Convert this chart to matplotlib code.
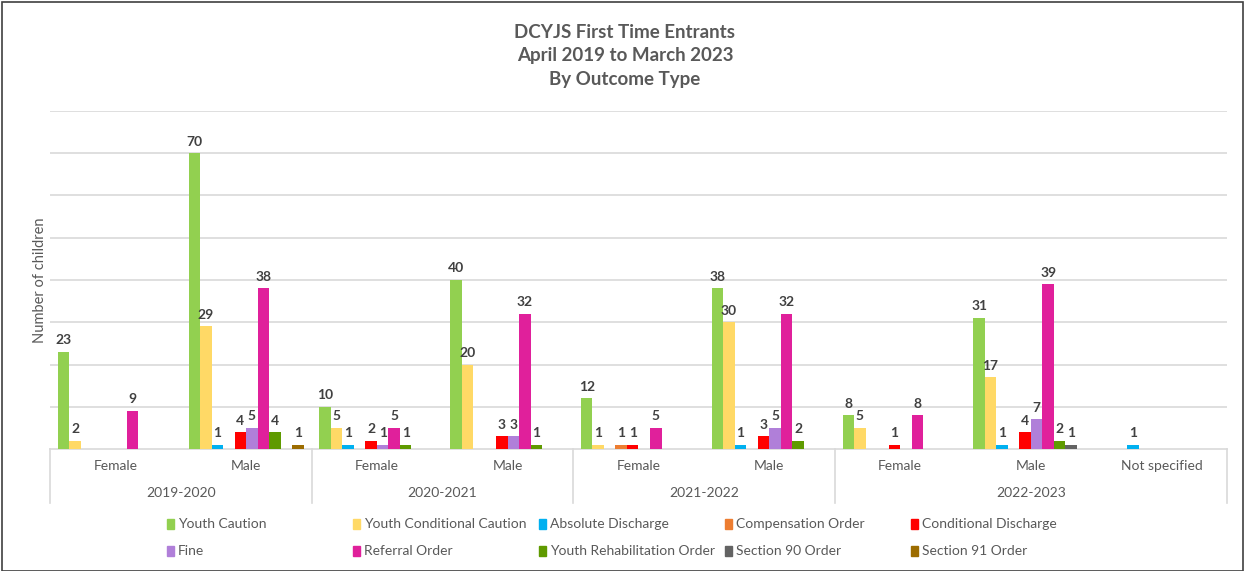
import matplotlib
matplotlib.use("Agg")
import matplotlib.pyplot as plt
from matplotlib.patches import Rectangle
from matplotlib.lines import Line2D
import matplotlib.transforms as mtransforms
import numpy as np

plt.rcParams['font.family'] = ['Lato', 'DejaVu Sans']

years = ["2019-2020", "2020-2021", "2021-2022", "2022-2023"]
year_spans = [2, 2, 2, 3]
sexes = ["Female", "Male", "Female", "Male", "Female", "Male", "Female", "Male", "Not specified"]

series_names = ["Youth Caution", "Youth Conditional Caution", "Absolute Discharge",
                "Compensation Order", "Conditional Discharge", "Fine", "Referral Order",
                "Youth Rehabilitation Order", "Section 90 Order", "Section 91 Order"]
colors = ["#92D050", "#FFD966", "#00B0F0", "#ED7D31", "#FF0000",
          "#B07FD9", "#E0209B", "#5F9A00", "#636363", "#9C6C00"]

youth_caution = [23, 70, 10, 40, 12, 38, 8, 31, 0]
youth_conditional_caution = [2, 29, 5, 20, 1, 30, 5, 17, 0]
absolute_discharge = [0, 1, 1, 0, 0, 1, 0, 1, 1]
compensation_order = [0, 0, 0, 0, 1, 0, 0, 0, 0]
conditional_discharge = [0, 4, 2, 3, 1, 3, 1, 4, 0]
fine = [0, 5, 1, 3, 0, 5, 0, 7, 0]
referral_order = [9, 38, 5, 32, 5, 32, 8, 39, 0]
youth_rehabilitation_order = [0, 4, 1, 1, 0, 2, 0, 2, 0]
section_90_order = [0, 0, 0, 0, 0, 0, 0, 1, 0]
section_91_order = [0, 1, 0, 0, 0, 0, 0, 0, 0]

series = [youth_caution, youth_conditional_caution, absolute_discharge,
          compensation_order, conditional_discharge, fine, referral_order,
          youth_rehabilitation_order, section_90_order, section_91_order]

W, H = 1245, 571
fig = plt.figure(figsize=(W / 100, H / 100), dpi=100)

left_px, right_px, base_px, top_px = 50, 1227, 449, 111
ax = fig.add_axes([left_px / W, 1 - base_px / H, (right_px - left_px) / W, (base_px - top_px) / H])

n = len(series)
bw = 0.088
x = np.arange(len(sexes))
txt = "#404040"
for i, (vals, c) in enumerate(zip(series, colors)):
    off = (i - (n - 1) / 2) * bw
    ax.bar(x + off, vals, width=bw, color=c, zorder=3, linewidth=0)
    for xi, v in zip(x, vals):
        if v > 0:
            ax.annotate(str(v), (xi + off, v), xytext=(0, 4), textcoords="offset points",
                        ha="center", va="bottom", fontsize=10, fontweight="bold", color=txt)

ax.set_xlim(-0.5, len(sexes) - 0.5)
ax.set_ylim(0, 80)
ax.set_yticks(np.arange(10, 81, 10))
ax.yaxis.grid(True, color="#D9D9D9", linewidth=1.2, zorder=0)
ax.tick_params(axis="y", length=0, labelleft=False)
ax.set_xticks([])
for s in ["left", "right", "top"]:
    ax.spines[s].set_visible(False)
ax.spines["bottom"].set_color("#D9D9D9")
ax.spines["bottom"].set_linewidth(1.2)

ax.set_ylabel("Number of children", fontsize=10.5, color="#595959", labelpad=2)

# multi-level category axis
trans = mtransforms.blended_transform_factory(ax.transData, fig.transFigure)
def fy(px):
    return 1 - px / H

for xi, s in zip(x, sexes):
    ax.text(xi, fy(466), s, transform=trans, ha="center", va="center",
            fontsize=10, color="#595959")
bounds = [-0.5]
pos = -0.5
for span in year_spans:
    pos += span
    bounds.append(pos)
for b in bounds:
    ax.add_line(Line2D([b, b], [fy(449), fy(503)], transform=trans, color="#D9D9D9",
                       linewidth=1.2, clip_on=False))
for k, yname in enumerate(years):
    mid = (bounds[k] + bounds[k + 1]) / 2
    ax.text(mid, fy(493), yname, transform=trans, ha="center", va="center",
            fontsize=10, color="#595959")

# title
for line, ypx in zip(["DCYJS First Time Entrants", "April 2019 to March 2023", "By Outcome Type"],
                     [32, 56, 80]):
    fig.text(625 / W, fy(ypx), line, ha="center", va="center", fontsize=13.5,
             fontweight="bold", color="#595959")

# legend
col_x = [167, 353, 539, 725, 911]
row_y = [524, 551]
for i, (name, c) in enumerate(zip(series_names, colors)):
    r, cc = divmod(i, 5)
    xm, ym = col_x[cc], row_y[r]
    fig.patches.append(Rectangle(((xm) / W, fy(ym + 5)), 7 / W, 10 / H,
                                 transform=fig.transFigure, color=c, figure=fig))
    fig.text((xm + 11) / W, fy(ym), name, ha="left", va="center", fontsize=10, color="#595959")

# outer border
fig.patches.append(Rectangle((2 / W, 0), (W - 4) / W, (H - 2) / H, transform=fig.transFigure,
                             fill=False, edgecolor="#404040", linewidth=1.2, figure=fig))

fig.savefig("out.png", dpi=100, facecolor="white")
